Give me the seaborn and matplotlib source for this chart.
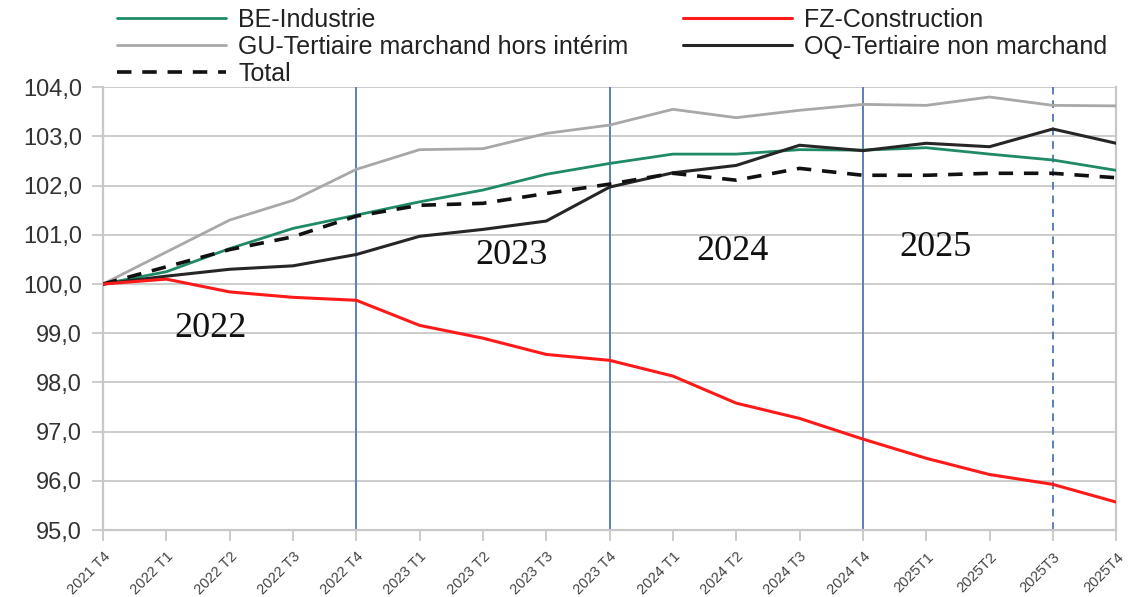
import numpy as np
import pandas as pd
import matplotlib
matplotlib.use("Agg")
import matplotlib.pyplot as plt
import seaborn as sns

quarters = ["2021 T4", "2022 T1", "2022 T2", "2022 T3", "2022 T4",
            "2023 T1", "2023 T2", "2023 T3", "2023 T4",
            "2024 T1", "2024 T2", "2024 T3", "2024 T4",
            "2025T1", "2025T2", "2025T3", "2025T4"]

be_industrie = [100.0, 100.25, 100.72, 101.13, 101.40, 101.67, 101.91, 102.23, 102.45,
                102.64, 102.64, 102.73, 102.72, 102.77, 102.64, 102.52, 102.31]
fz_construction = [100.0, 100.10, 99.84, 99.73, 99.67, 99.16, 98.90, 98.57, 98.45,
                   98.13, 97.58, 97.27, 96.85, 96.46, 96.13, 95.93, 95.57]
gu_tertiaire_marchand = [100.0, 100.65, 101.30, 101.70, 102.33, 102.73, 102.75, 103.06, 103.23,
                         103.55, 103.38, 103.53, 103.65, 103.63, 103.80, 103.63, 103.62]
oq_tertiaire_non_marchand = [100.0, 100.16, 100.30, 100.37, 100.60, 100.97, 101.11, 101.28, 101.97,
                             102.26, 102.41, 102.82, 102.71, 102.86, 102.79, 103.15, 102.86]
total = [100.0, 100.35, 100.70, 100.96, 101.38, 101.60, 101.64, 101.84, 102.03,
         102.25, 102.11, 102.35, 102.21, 102.21, 102.25, 102.25, 102.16]

series_names = ["BE-Industrie", "FZ-Construction", "GU-Tertiaire marchand hors intérim",
                "OQ-Tertiaire non marchand", "Total"]
series_values = [be_industrie, fz_construction, gu_tertiaire_marchand,
                 oq_tertiaire_non_marchand, total]

year_labels = ["2022", "2023", "2024", "2025"]
year_label_pos = [(1.7, 99.1), (6.45, 100.57), (9.95, 100.67), (13.15, 100.75)]
year_separators = ["2022 T4", "2023 T4", "2024 T4"]
dashed_separator = "2025T3"

styles = {
    "BE-Industrie": dict(color="#1f8a66", lw=2.0, ls="-"),
    "FZ-Construction": dict(color="#ff1a1a", lw=2.2, ls="-"),
    "GU-Tertiaire marchand hors intérim": dict(color="#a8a8a8", lw=2.0, ls="-"),
    "OQ-Tertiaire non marchand": dict(color="#262626", lw=2.2, ls="-"),
    "Total": dict(color="#111111", lw=2.6, ls=(0, (4, 3))),
}

rows = []
for name, vals in zip(series_names, series_values):
    for i, (q, v) in enumerate(zip(quarters, vals)):
        rows.append({"idx": i, "quarter": q, "serie": name, "value": v})
df = pd.DataFrame(rows)

sns.set_theme(style="white")
plt.rcParams["font.family"] = ["Liberation Sans", "DejaVu Sans"]

fig = plt.figure(figsize=(11.32, 5.97), dpi=100)
ax = fig.add_axes([0.091, 0.112, 0.895, 0.742])

grid_color = "#c8c8c8"
for y in np.arange(95, 104.01, 1.0):
    ax.axhline(y, color=grid_color, lw=1.3, zorder=0)

idx_of = {q: i for i, q in enumerate(quarters)}
for q in year_separators:
    ax.axvline(idx_of[q], color="#5b7fb8", lw=1.4, zorder=1)
ax.axvline(idx_of[dashed_separator], color="#5b7fb8", lw=1.4, ls=(0, (4, 3)), zorder=1)

draw_order = ["GU-Tertiaire marchand hors intérim", "BE-Industrie", "OQ-Tertiaire non marchand",
              "Total", "FZ-Construction"]
handles = {}
for name in draw_order:
    st = styles[name]
    sub = df[df["serie"] == name]
    sns.lineplot(data=sub, x="idx", y="value", ax=ax, color=st["color"],
                 linewidth=st["lw"], linestyle=st["ls"], legend=False, zorder=3)
    handles[name] = ax.lines[-1]

for lab, (xp, yp) in zip(year_labels, year_label_pos):
    ax.text(xp, yp, lab, fontsize=26, family=["Liberation Serif", "DejaVu Serif"],
            color="#111111", ha="center", va="center", zorder=4)

ax.set_xlim(0, len(quarters) - 1)
ax.set_ylim(95, 104)
ax.set_yticks(np.arange(95, 104.01, 1.0))
ax.set_yticklabels([f"{v:.1f}".replace(".", ",") for v in np.arange(95, 104.01, 1.0)],
                   fontsize=17, color="#333333")
ax.set_xticks(range(len(quarters)))
ax.set_xticklabels(quarters, rotation=45, ha="right", rotation_mode="anchor",
                   fontsize=10.5, color="#444444")
ax.tick_params(axis="both", direction="out", length=8, width=1.3, color=grid_color,
               left=True, bottom=True)
ax.tick_params(axis="y", pad=7)
ax.tick_params(axis="x", pad=6)
ax.set_xlabel("")
ax.set_ylabel("")
for side in ["left", "bottom", "right"]:
    ax.spines[side].set_visible(True)
    ax.spines[side].set_color(grid_color)
    ax.spines[side].set_linewidth(1.6)
ax.spines["top"].set_visible(False)

leg_order = ["BE-Industrie", "GU-Tertiaire marchand hors intérim", "Total",
             "FZ-Construction", "OQ-Tertiaire non marchand"]
leg = fig.legend([handles[n] for n in leg_order], leg_order, ncol=2,
                 loc="upper left", bbox_to_anchor=(0.0835, 1.025), frameon=False,
                 fontsize=18, handlelength=4.36, handletextpad=0.48,
                 labelspacing=0.12, columnspacing=2.2)
for t in leg.get_texts():
    t.set_color("#222222")

fig.savefig("out.png", dpi=100)
